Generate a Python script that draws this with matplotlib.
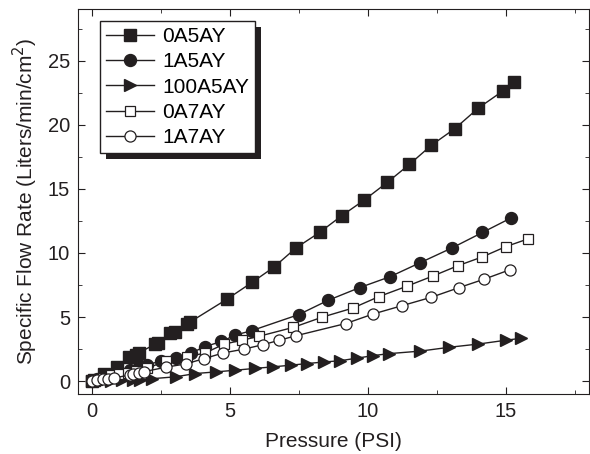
import matplotlib
matplotlib.use('Agg')
import matplotlib.pyplot as plt
from matplotlib.ticker import MultipleLocator
from matplotlib.patches import Rectangle

plt.rcParams['font.family'] = ['Liberation Sans', 'DejaVu Sans']

# === Données ===
labels = ["0A5AY", "1A5AY", "100A5AY", "0A7AY", "1A7AY"]

x_0a5ay = [0, 0.1, 0.45, 0.9, 1.35, 1.6, 1.7, 2.3, 2.4, 2.85, 3.0, 3.45, 3.55, 4.9, 5.8,
           6.6, 7.4, 8.25, 9.05, 9.85, 10.7, 11.5, 12.3, 13.15, 14.0, 14.9, 15.3]
y_0a5ay = [0, 0.1, 0.6, 1.1, 1.9, 2.05, 2.2, 2.9, 3.0, 3.75, 3.85, 4.45, 4.6, 6.4, 7.7,
           8.9, 10.4, 11.6, 12.9, 14.1, 15.5, 16.9, 18.4, 19.7, 21.3, 22.65, 23.3]

x_1a5ay = [0, 0.2, 0.5, 0.9, 1.4, 1.7, 2.0, 2.5, 3.05, 3.6, 4.1, 4.7, 5.2, 5.8, 7.5,
           8.55, 9.7, 10.8, 11.9, 13.05, 14.15, 15.2]
y_1a5ay = [0, 0.15, 0.35, 0.6, 0.9, 1.1, 1.3, 1.55, 1.8, 2.2, 2.7, 3.1, 3.6, 3.95, 5.2,
           6.3, 7.3, 8.15, 9.25, 10.4, 11.6, 12.75]

x_100a5ay = [0, 0.3, 0.7, 1.1, 1.5, 1.75, 2.2, 3.05, 3.75, 4.5, 5.2, 5.9, 6.55, 7.2, 7.8,
             8.4, 9.0, 9.6, 10.2, 10.75, 11.9, 12.95, 14.0, 15.0, 15.55]
y_100a5ay = [0, 0.02, 0.05, 0.08, 0.1, 0.12, 0.2, 0.35, 0.6, 0.73, 0.86, 1.0, 1.12, 1.25, 1.38,
             1.5, 1.6, 1.8, 2.0, 2.15, 2.35, 2.65, 2.9, 3.2, 3.35]

x_0a7ay = [0, 0.2, 0.4, 0.7, 1.0, 1.3, 1.6, 2.0, 2.7, 3.45, 4.1, 4.8, 5.45, 6.05, 7.3,
           8.35, 9.45, 10.4, 11.4, 12.35, 13.25, 14.15, 15.0, 15.8]
y_0a7ay = [0, 0.1, 0.25, 0.45, 0.55, 0.65, 0.8, 1.0, 1.6, 1.9, 2.2, 2.9, 3.2, 3.5, 4.2,
           5.0, 5.7, 6.6, 7.4, 8.2, 9.0, 9.7, 10.5, 11.1]

x_1a7ay = [0, 0.2, 0.4, 0.6, 0.8, 1.4, 1.5, 1.7, 1.9, 2.7, 3.4, 4.05, 4.75, 5.5, 6.2,
           6.8, 7.4, 9.2, 10.2, 11.25, 12.3, 13.3, 14.2, 15.15]
y_1a7ay = [0, 0.1, 0.15, 0.2, 0.25, 0.5, 0.55, 0.65, 0.75, 1.1, 1.35, 1.75, 2.2, 2.5, 2.85,
           3.2, 3.55, 4.5, 5.25, 5.9, 6.55, 7.3, 7.95, 8.7]

noir = '#231f20'

# === Graphique ===
fig = plt.figure(figsize=(5.9, 4.54), dpi=100)
ax = fig.add_axes([0.132, 0.132, 0.866, 0.8475])

ax.plot(x_0a5ay, y_0a5ay, '-', color=noir, lw=1, marker='s', ms=8, mfc=noir, mec=noir, label=labels[0])
ax.plot(x_1a5ay, y_1a5ay, '-', color=noir, lw=1, marker='o', ms=8.6, mfc=noir, mec=noir, label=labels[1])
ax.plot(x_100a5ay, y_100a5ay, '-', color=noir, lw=1, marker='>', ms=9, mfc=noir, mec=noir, label=labels[2])
ax.plot(x_0a7ay, y_0a7ay, '-', color=noir, lw=1, marker='s', ms=7.5, mfc='w', mec=noir, mew=0.9, label=labels[3])
ax.plot(x_1a7ay, y_1a7ay, '-', color=noir, lw=1, marker='o', ms=8, mfc='w', mec=noir, mew=0.9, label=labels[4])

ax.set_xlim(-0.5, 18)
ax.set_ylim(-1, 29)
ax.xaxis.set_major_locator(MultipleLocator(5))
ax.xaxis.set_minor_locator(MultipleLocator(2.5))
ax.yaxis.set_major_locator(MultipleLocator(5))
ax.yaxis.set_minor_locator(MultipleLocator(2.5))
ax.tick_params(which='both', direction='in', top=True, right=True, labelsize=14.5, colors=noir, pad=5.5)
ax.tick_params(which='major', length=5)
ax.tick_params(which='minor', length=3)
for sp in ax.spines.values():
    sp.set_color(noir)

ax.set_xlabel("Pressure (PSI)", fontsize=15, color=noir, labelpad=8)
ax.set_ylabel("Specific Flow Rate (Liters/min/cm$^2$)", fontsize=15, color=noir, labelpad=6)

leg = ax.legend(loc='upper left', bbox_to_anchor=(0.043, 0.970), borderaxespad=0, fontsize=15,
                frameon=True, fancybox=False, shadow=False, edgecolor=noir,
                handlelength=2.3, borderpad=0.3, labelspacing=0.3, handletextpad=0.4,
                framealpha=1)
leg.get_frame().set_linewidth(1)
leg.set_zorder(6)

# ombre noire décalée sous la légende
fig.canvas.draw()
bb = leg.get_window_extent().transformed(ax.transAxes.inverted())
dx = 6 / (ax.bbox.width)
dy = 6 / (ax.bbox.height)
ax.add_patch(Rectangle((bb.x0 + dx, bb.y0 - dy), bb.width, bb.height, transform=ax.transAxes,
                       facecolor=noir, edgecolor='none', zorder=5, clip_on=False))

plt.savefig("out.png", dpi=100)
